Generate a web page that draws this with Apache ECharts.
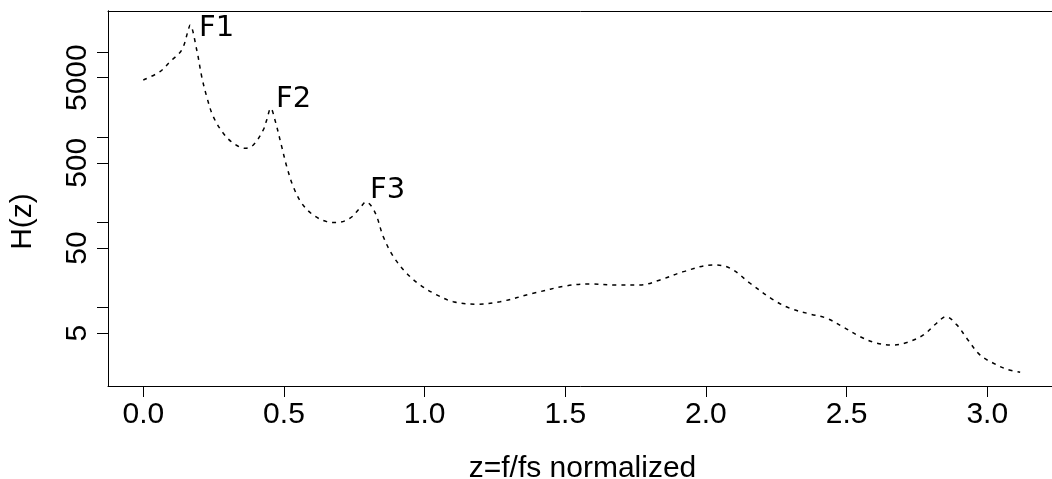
<!DOCTYPE html>
<html>
<head>
<meta charset="utf-8">
<script src="https://cdn.jsdelivr.net/npm/echarts@6/dist/echarts.min.js"></script>
<style>
html,body{margin:0;padding:0;background:#fff;}
#chart{width:1052px;height:479px;}
</style>
</head>
<body>
<div id="chart"></div>
<script>
// normalized frequency z = f/fs
const zValues = [0, 0.059, 0.095, 0.1365, 0.16, 0.166, 0.19, 0.2076, 0.2254, 0.2488, 0.2844, 0.32, 0.3615, 0.391, 0.4266, 0.4387, 0.453, 0.468, 0.492, 0.51, 0.533, 0.563, 0.604, 0.652, 0.6875, 0.735, 0.770, 0.792, 0.812, 0.83, 0.853, 0.889, 0.936, 0.984, 1.043, 1.102, 1.185, 1.268, 1.386, 1.505, 1.588, 1.683, 1.766, 1.837, 1.92, 2.026, 2.086, 2.157, 2.24, 2.299, 2.37, 2.429, 2.488, 2.548, 2.607, 2.666, 2.714, 2.773, 2.82, 2.853, 2.892, 2.927, 2.974, 3.022, 3.069, 3.117];
// magnitude H(z)
const hValues = [4700, 5880, 7705, 10570, 18140, 20770, 10570, 5137, 2992, 1743, 1113, 849, 742, 811, 1217, 1594, 2186, 1594, 775, 451, 263, 168, 122, 102, 99.4, 112, 147, 174, 153, 117, 68, 39.6, 25.3, 18.4, 14.1, 11.7, 10.95, 11.7, 14.7, 18.0, 18.95, 18.4, 18.4, 21.1, 26.4, 31.7, 29.0, 19.3, 12.3, 9.8, 8.4, 7.5, 5.9, 4.56, 3.82, 3.64, 3.88, 4.77, 6.55, 7.83, 6.26, 4.37, 2.78, 2.22, 1.89, 1.74];
// formant labels
const formantNames = ['F1', 'F2', 'F3'];
const formantZ = [0.198, 0.472, 0.806];
const formantH = [18900, 2770, 234];
// axis ticks
const xTicks = [0, 0.5, 1.0, 1.5, 2.0, 2.5, 3.0];
const yTicks = [5, 10, 50, 100, 500, 1000, 5000, 10000];
const yTickLabels = [5, 50, 500, 5000];
const xMin = -0.1255, xMax = 3.248;
const yMin = 1.2, yMax = 30300;

const lg = v => Math.log10(v);
const chart = echarts.init(document.getElementById('chart'), null, {renderer: 'canvas'});
const axisFont = 'Liberation Sans, Arial, Helvetica, sans-serif';
chart.setOption({
  animation: false,
  backgroundColor: '#fff',
  grid: {left: 108, top: 11, right: -5, bottom: 93, show: false, outerBoundsMode: 'none', containLabel: false},
  xAxis: [{
    type: 'value', min: xMin, max: xMax, position: 'bottom',
    name: 'z=f/fs normalized', nameLocation: 'middle', nameGap: 68,
    nameTextStyle: {fontSize: 30, color: '#000', fontFamily: axisFont},
    axisLine: {show: true, onZero: false, lineStyle: {color: '#000', width: 1}},
    axisTick: {show: true, length: 11, customValues: xTicks, lineStyle: {color: '#000'}},
    axisLabel: {customValues: xTicks, formatter: v => v.toFixed(1), fontSize: 30, color: '#000', margin: 14, fontFamily: axisFont},
    splitLine: {show: false}
  }, {
    type: 'value', min: xMin, max: xMax, position: 'top',
    axisLine: {show: true, onZero: false, lineStyle: {color: '#000', width: 1}},
    axisTick: {show: false}, axisLabel: {show: false}, splitLine: {show: false}
  }],
  yAxis: [{
    type: 'log', logBase: 10, min: yMin, max: yMax, position: 'left',
    axisLine: {show: true, onZero: false, lineStyle: {color: '#000'}},
    axisTick: {show: false}, axisLabel: {show: false}, splitLine: {show: false}, minorTick: {show: false}
  }, {
    type: 'value', position: 'left', min: lg(yMin), max: lg(yMax),
    name: 'H(z)', nameLocation: 'middle', nameGap: 70, nameRotate: 90,
    nameTextStyle: {fontSize: 30, color: '#000', fontFamily: axisFont, padding: [0, 46, 0, 0]},
    axisLine: {show: true, onZero: false, lineStyle: {color: '#000'}},
    axisTick: {show: true, length: 11, customValues: yTicks.map(lg), lineStyle: {color: '#000'}},
    axisLabel: {customValues: yTickLabels.map(lg), rotate: 90, formatter: v => String(Math.round(Math.pow(10, v))), fontSize: 30, color: '#000', margin: 15, fontFamily: axisFont},
    splitLine: {show: false}
  }],
  series: [{
    type: 'line', yAxisIndex: 0,
    data: zValues.map((z, i) => [z, hValues[i]]),
    showSymbol: false, smooth: 0.35,
    lineStyle: {color: '#000', width: 1.5, type: [4, 5]}
  }, {
    type: 'scatter', yAxisIndex: 0, symbolSize: 0,
    itemStyle: {opacity: 1},
    data: formantZ.map((z, i) => ({name: formantNames[i], value: [z, formantH[i]]})),
    label: {show: true, position: [0, 0], align: 'left', verticalAlign: 'middle', formatter: p => p.name, fontSize: 29, color: '#000', opacity: 1, fontFamily: 'DejaVu Sans'}
  }]
});
</script>
</body>
</html>
